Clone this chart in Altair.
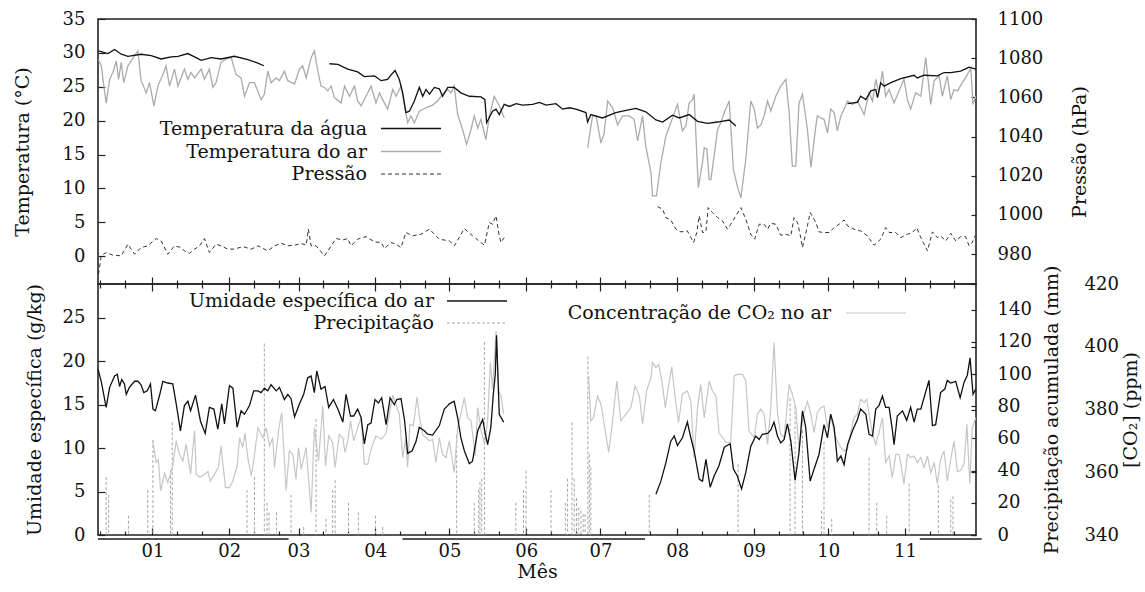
import altair as alt
import pandas as pd

FONT = "DejaVu Serif"
INK = "#111111"

# Calendar: day 0 is 1 January; the record starts on 10 December.
month_start = [0, 31, 59, 90, 120, 151, 181, 212, 243, 273, 304]
month_label = ["01", "02", "03", "04", "05", "06", "07", "08", "09", "10", "11"]
minor_days = [-21, -11] + [d + k for d in month_start for k in (10, 20)]
x_domain = [-22, 332.7]

# (day, value); a None value marks a break in the record.
water_temp = [
    (-21.8, 30.3), (-18.0, 29.9), (-15.3, 30.5), (-12.6, 29.8), (-9.9, 29.5), (-4.6, 29.8),
    (-0.5, 29.6), (3.5, 29.1), (7.6, 29.4), (10.3, 29.5), (14.3, 29.9), (17.0, 29.4),
    (19.7, 28.9), (23.7, 29.3), (27.7, 29.1), (33.1, 29.5), (38.5, 29.0), (42.6, 28.5),
    (45.0, 28.1), (58.0, None), (71.5, 28.4), (74.9, 28.3), (78.9, 27.6), (82.9, 27.2),
    (85.6, 26.5), (89.7, 26.6), (92.4, 25.9), (95.0, 26.1), (96.5, 26.8), (98.0, 27.4),
    (99.7, 26.1), (101.1, 24.1), (102.4, 21.2), (103.8, 21.4), (105.8, 22.9), (107.8, 24.9),
    (109.2, 23.6), (110.5, 24.6), (111.9, 23.9), (113.9, 24.9), (115.9, 24.7), (117.2, 23.6),
    (119.3, 24.9), (121.9, 24.9), (124.6, 24.1), (128.0, 23.6), (132.7, 23.5), (134.3, 23.1),
    (135.0, 19.7), (137.4, 21.4), (138.8, 21.7), (140.1, 20.9), (142.1, 22.4), (144.2, 22.1),
    (146.9, 22.5), (149.5, 22.3), (153.6, 22.4), (156.3, 22.7), (159.0, 22.3), (163.0, 22.5),
    (165.7, 21.7), (168.4, 21.9), (171.1, 21.7), (175.1, 21.2), (175.8, 19.8), (177.1, 20.9),
    (181.8, 20.4), (187.2, 21.2), (189.9, 21.4), (195.3, 21.8), (199.3, 21.3), (203.4, 20.1),
    (206.1, 19.8), (210.1, 20.8), (212.8, 20.4), (216.8, 20.9), (220.2, 19.9), (224.2, 19.6),
    (228.3, 19.8), (233.0, 20.1), (235.7, 19.2), (258.0, None), (280.8, 22.5), (284.8, 22.7),
    (286.1, 23.6), (288.2, 23.1), (290.2, 24.4), (292.2, 24.6), (292.9, 23.4), (294.2, 25.6),
    (295.6, 25.1), (298.3, 25.6), (302.3, 26.2), (307.7, 26.7), (309.0, 26.3), (311.7, 26.7),
    (317.1, 26.6), (319.8, 27.1), (322.5, 27.1), (326.5, 27.3), (329.9, 27.9), (332.6, 27.6),
]

air_temp = [
    (-21.8, 29.0), (-20.7, 28.1), (-18.7, 22.6), (-17.3, 26.1), (-16.0, 27.1), (-14.6, 28.8),
    (-13.7, 26.1), (-12.6, 28.6), (-11.6, 25.6), (-9.9, 28.1), (-5.9, 30.3), (-4.6, 25.9),
    (-2.5, 24.1), (-1.2, 25.6), (0.6, 22.2), (2.2, 25.1), (4.2, 26.8), (5.5, 28.1),
    (6.9, 25.1), (8.9, 27.6), (10.3, 25.1), (12.9, 27.6), (14.3, 26.1), (15.6, 27.1),
    (17.0, 26.3), (19.7, 27.6), (21.0, 26.1), (23.0, 27.6), (24.4, 24.9), (25.7, 25.6),
    (27.7, 28.6), (29.8, 29.1), (31.8, 29.3), (33.8, 26.8), (35.8, 26.3), (37.2, 23.6),
    (39.2, 25.6), (41.2, 25.6), (43.9, 23.1), (45.2, 23.9), (46.6, 27.3), (47.9, 25.6),
    (50.0, 26.3), (51.3, 25.9), (53.3, 27.3), (54.7, 25.9), (57.4, 25.4), (59.4, 27.6),
    (60.7, 28.1), (62.1, 26.3), (64.1, 29.3), (65.4, 30.3), (66.8, 27.3), (68.1, 25.1),
    (69.5, 24.9), (70.8, 24.4), (72.2, 25.1), (73.5, 23.4), (76.2, 22.6), (77.6, 25.1),
    (79.6, 23.6), (81.6, 25.1), (82.9, 22.9), (84.3, 22.2), (86.3, 23.6), (88.3, 25.1),
    (90.3, 22.6), (91.7, 24.1), (93.0, 23.1), (95.0, 21.7), (97.1, 24.6), (98.4, 23.6),
    (100.4, 25.1), (101.8, 22.2), (103.1, 19.7), (104.4, 20.7), (105.8, 19.7), (107.8, 21.4),
    (110.5, 21.9), (113.2, 22.3), (115.2, 22.9), (117.2, 23.9), (119.3, 24.6), (120.6, 24.1),
    (121.9, 25.1), (123.3, 20.9), (125.3, 18.7), (126.9, 16.5), (128.7, 18.7), (130.0, 20.7),
    (131.4, 18.9), (132.7, 20.2), (134.7, 17.2), (136.1, 20.7), (138.1, 23.6), (140.1, 22.2),
    (142.1, 20.4), (160.0, None), (175.8, 16.0), (177.8, 20.7), (179.2, 20.7), (181.2, 16.7),
    (182.5, 18.2), (183.9, 22.9), (185.9, 21.9), (187.9, 19.4), (189.9, 20.7), (192.6, 20.7),
    (194.6, 20.2), (196.0, 17.0), (198.0, 20.7), (199.3, 16.2), (201.4, 12.3), (202.0, 8.9),
    (203.6, 8.9), (205.4, 13.8), (207.4, 17.7), (209.4, 19.7), (212.1, 22.4), (214.1, 18.5),
    (215.5, 19.2), (216.8, 22.6), (218.2, 23.1), (218.8, 23.9), (220.5, 10.1), (222.2, 13.8),
    (222.9, 16.0), (224.0, 15.8), (224.9, 11.3), (225.6, 11.3), (226.9, 14.8), (228.3, 18.7),
    (229.6, 19.7), (231.0, 21.2), (233.0, 22.9), (234.7, 12.8), (236.3, 10.3), (237.7, 8.6),
    (239.7, 14.3), (241.7, 22.9), (243.1, 21.7), (244.4, 18.9), (245.8, 19.4), (247.1, 20.7),
    (248.5, 22.9), (249.8, 21.4), (251.8, 23.6), (253.8, 25.1), (255.9, 26.1), (257.2, 21.2),
    (258.5, 13.3), (259.9, 13.3), (261.2, 22.6), (262.6, 23.9), (264.6, 18.7), (266.0, 13.1),
    (268.0, 19.2), (268.6, 20.7), (270.0, 20.4), (271.3, 20.2), (272.7, 18.2), (274.0, 21.7),
    (275.4, 21.2), (276.7, 18.5), (278.1, 20.7), (279.4, 21.7), (280.8, 22.9), (282.8, 22.4),
    (284.8, 22.9), (287.5, 20.9), (289.5, 24.1), (290.9, 22.9), (292.2, 26.1), (293.5, 24.1),
    (294.9, 27.3), (296.2, 23.6), (297.6, 24.6), (299.6, 22.6), (301.6, 24.4), (303.6, 26.1),
    (305.0, 23.1), (306.3, 21.7), (308.3, 24.1), (310.4, 23.6), (312.4, 29.3), (314.4, 22.4),
    (315.8, 25.9), (317.8, 26.6), (319.1, 23.6), (321.1, 26.6), (322.5, 23.1), (323.8, 24.6),
    (325.2, 24.4), (327.2, 25.6), (329.2, 26.8), (330.6, 27.8), (331.5, 22.4), (332.6, 23.6),
]

pressure = [
    (-21.8, 969.7), (-20.7, 979.1), (-18.7, 980.8), (-16.0, 979.4), (-12.6, 979.1), (-9.9, 985.0),
    (-7.2, 979.9), (-4.6, 983.3), (-1.9, 984.2), (1.5, 987.9), (3.5, 986.7), (6.2, 979.9),
    (8.9, 984.2), (11.6, 983.3), (12.9, 981.6), (15.0, 980.4), (17.0, 982.5), (19.0, 984.2),
    (21.0, 987.9), (23.0, 980.8), (25.7, 985.0), (27.7, 984.2), (30.4, 982.5), (33.1, 982.5),
    (36.5, 983.8), (39.9, 982.5), (42.6, 984.2), (46.6, 981.6), (49.3, 984.2), (52.0, 985.5),
    (54.7, 984.2), (57.4, 984.5), (60.1, 985.4), (62.1, 984.5), (63.0, 992.7), (64.1, 984.2),
    (66.1, 984.2), (69.5, 979.1), (72.2, 984.2), (74.2, 987.9), (76.9, 987.2), (78.9, 987.9),
    (80.2, 984.2), (82.9, 987.6), (86.3, 988.9), (89.7, 986.2), (92.4, 985.9), (93.7, 982.8),
    (96.4, 985.9), (98.4, 985.0), (100.4, 983.3), (102.4, 991.0), (105.1, 989.3), (108.5, 990.1),
    (111.9, 992.7), (115.9, 987.6), (119.9, 986.7), (122.0, 984.2), (126.0, 993.0), (129.3, 989.3),
    (134.1, 984.5), (136.1, 996.1), (137.4, 995.2), (138.8, 999.5), (140.1, 989.3), (140.8, 985.9),
    (142.1, 988.4), (170.0, None), (204.0, 1004.2), (206.1, 1002.9), (207.4, 998.6), (209.4, 997.4),
    (211.5, 992.7), (213.5, 991.3), (216.1, 991.8), (217.5, 988.4), (218.6, 985.9), (219.9, 991.0),
    (220.9, 999.5), (222.2, 991.0), (223.6, 991.3), (224.5, 1003.7), (226.2, 1001.2), (228.3, 998.6),
    (230.3, 996.9), (232.3, 992.7), (233.6, 995.2), (235.7, 999.5), (237.7, 1003.7), (239.7, 997.8),
    (241.7, 990.1), (243.3, 987.6), (245.1, 995.2), (247.1, 995.2), (248.5, 992.7), (249.8, 995.7),
    (251.8, 995.2), (253.8, 989.6), (255.9, 990.1), (257.9, 989.3), (259.2, 998.6), (260.6, 996.1),
    (261.9, 988.4), (262.6, 983.3), (264.6, 994.4), (265.7, 1001.2), (268.0, 996.1), (269.3, 991.3),
    (271.3, 991.0), (273.4, 991.0), (275.4, 993.5), (277.4, 995.2), (279.4, 997.4), (280.8, 994.4),
    (283.4, 992.7), (286.1, 991.8), (288.8, 989.3), (291.5, 984.5), (294.2, 987.6), (296.2, 993.5),
    (297.6, 991.0), (300.3, 991.0), (302.3, 988.4), (305.0, 990.1), (307.0, 991.0), (308.8, 993.4),
    (310.4, 988.4), (313.1, 981.6), (315.1, 991.3), (317.1, 988.4), (318.4, 989.3), (320.5, 986.7),
    (322.5, 990.6), (324.5, 986.7), (326.5, 988.9), (328.5, 988.9), (329.9, 984.2), (331.2, 985.9),
    (332.3, 989.3),
]

humidity = [
    (-22.0, 19.1), (-20.7, 17.7), (-18.7, 14.7), (-17.3, 17.0), (-15.3, 18.3), (-14.2, 18.5),
    (-13.3, 17.1), (-12.4, 17.9), (-11.3, 17.4), (-10.6, 16.2), (-9.3, 17.0), (-7.2, 17.7),
    (-5.9, 17.7), (-4.6, 17.3), (-3.5, 16.4), (-2.1, 16.6), (-0.8, 17.4), (0.2, 14.5),
    (1.2, 14.3), (2.8, 16.0), (4.2, 17.7), (6.2, 17.5), (8.2, 17.4), (9.6, 15.1),
    (11.3, 12.0), (12.9, 14.9), (14.3, 15.4), (15.4, 14.3), (17.4, 16.1), (19.4, 13.1),
    (21.3, 11.7), (23.0, 14.7), (24.8, 14.5), (26.4, 12.2), (28.0, 15.1), (29.1, 12.8),
    (31.1, 17.2), (32.5, 16.9), (34.2, 12.4), (35.8, 14.3), (37.2, 13.9), (39.2, 14.9),
    (40.9, 16.6), (42.6, 16.6), (43.9, 16.4), (45.2, 16.9), (46.6, 16.6), (47.9, 17.3),
    (50.0, 16.6), (51.3, 17.0), (53.3, 15.6), (54.7, 16.2), (56.0, 15.7), (57.4, 13.6),
    (59.4, 15.1), (61.1, 16.2), (62.7, 18.1), (64.1, 18.3), (65.4, 16.4), (66.4, 18.9),
    (68.1, 16.8), (69.7, 17.1), (71.2, 14.7), (73.1, 15.6), (74.9, 14.5), (76.9, 13.0),
    (78.2, 16.2), (80.0, 13.7), (81.3, 13.7), (82.9, 14.5), (84.3, 13.5), (85.6, 10.5),
    (87.0, 12.7), (88.3, 12.9), (89.9, 15.6), (91.3, 15.2), (92.6, 15.8), (94.4, 12.7),
    (96.0, 15.8), (97.7, 15.0), (98.7, 15.6), (100.4, 15.7), (101.8, 13.3), (103.1, 9.4),
    (104.9, 9.7), (106.5, 10.8), (107.8, 12.4), (109.8, 12.0), (111.2, 11.6), (113.2, 11.5),
    (115.9, 12.6), (117.9, 14.5), (119.3, 14.9), (119.9, 15.1), (121.9, 15.4), (123.3, 13.5),
    (124.6, 11.2), (126.0, 9.7), (128.0, 8.2), (129.3, 8.5), (131.4, 12.0), (133.4, 13.3),
    (134.5, 11.6), (135.4, 10.4), (136.7, 12.4), (137.7, 16.2), (138.5, 18.5), (139.0, 23.0),
    (140.1, 13.9), (141.9, 13.0), (170.0, None), (203.4, 4.7), (205.4, 6.2), (207.4, 8.3),
    (209.4, 10.8), (210.8, 11.4), (212.1, 10.3), (214.1, 11.2), (216.1, 13.0), (217.5, 11.2),
    (218.8, 9.7), (220.9, 6.4), (222.2, 6.2), (223.6, 8.7), (225.3, 5.5), (226.9, 6.8),
    (228.9, 8.0), (231.0, 10.1), (233.4, 10.5), (234.7, 7.6), (236.3, 6.8), (238.0, 5.3),
    (239.7, 7.2), (241.7, 10.2), (243.7, 11.4), (245.1, 11.0), (246.4, 11.6), (248.5, 11.7),
    (249.8, 12.1), (251.1, 13.0), (252.5, 11.4), (253.8, 10.6), (255.2, 11.0), (256.5, 12.8),
    (257.9, 10.8), (259.6, 6.3), (261.2, 9.5), (262.6, 14.3), (263.9, 12.4), (265.7, 6.2),
    (267.3, 7.6), (269.3, 9.3), (271.3, 12.7), (272.7, 11.2), (274.0, 13.9), (275.4, 12.4),
    (276.7, 8.5), (278.1, 9.1), (279.4, 8.1), (280.8, 10.4), (282.8, 12.0), (284.8, 13.3),
    (286.1, 14.5), (288.2, 13.9), (289.5, 11.6), (290.9, 11.4), (292.2, 14.5), (293.5, 14.9),
    (294.9, 16.0), (296.2, 14.7), (297.6, 14.7), (298.9, 12.1), (299.6, 10.4), (300.9, 13.7),
    (303.0, 14.3), (304.7, 13.2), (306.3, 14.7), (307.7, 13.0), (309.0, 14.5), (310.4, 14.5),
    (311.7, 15.8), (313.7, 17.8), (315.1, 12.6), (316.4, 12.7), (318.4, 16.4), (320.1, 16.8),
    (321.1, 17.8), (322.5, 17.5), (324.5, 17.7), (326.3, 15.8), (327.9, 17.6), (329.2, 18.4),
    (330.3, 20.4), (331.5, 16.2), (332.6, 16.8),
]

co2 = [
    (0.2, 370.0), (1.5, 363.1), (2.4, 364.1), (3.3, 354.1), (4.9, 359.6), (6.2, 356.7),
    (8.2, 362.0), (9.6, 370.0), (10.9, 365.7), (12.3, 363.6), (13.6, 368.9), (15.4, 359.4),
    (17.0, 373.2), (17.7, 359.4), (19.0, 358.5), (20.3, 358.9), (22.4, 360.2), (23.4, 357.2),
    (25.1, 359.4), (26.7, 361.7), (27.7, 368.4), (29.5, 355.1), (31.1, 355.1), (32.5, 357.2),
    (34.2, 362.0), (35.2, 371.0), (36.5, 367.9), (37.4, 372.6), (38.5, 364.7), (39.9, 358.9),
    (40.9, 363.6), (42.6, 374.2), (44.6, 371.0), (45.9, 374.2), (47.3, 368.4), (48.6, 371.0),
    (49.3, 361.5), (51.0, 373.7), (52.2, 379.0), (54.0, 354.1), (55.3, 366.8), (56.7, 365.7),
    (58.0, 357.8), (59.0, 367.9), (60.1, 361.0), (62.1, 367.9), (64.1, 347.2), (65.4, 374.2),
    (67.1, 363.6), (68.8, 381.1), (69.9, 362.0), (71.2, 371.6), (72.8, 369.5), (73.8, 361.5),
    (75.5, 372.1), (76.9, 371.0), (77.8, 366.3), (78.9, 370.0), (80.0, 376.4), (81.3, 370.0),
    (82.9, 374.2), (84.3, 377.4), (85.6, 362.6), (87.0, 362.6), (88.3, 367.3), (90.3, 371.6),
    (92.4, 370.5), (94.4, 372.4), (95.7, 378.5), (97.1, 384.6), (99.7, 378.5), (101.1, 364.7),
    (102.2, 370.5), (103.1, 361.5), (104.0, 375.3), (105.4, 374.8), (106.9, 384.0), (107.8, 378.0),
    (109.2, 371.9), (110.5, 371.0), (111.9, 370.0), (113.2, 370.5), (114.5, 363.1), (115.9, 371.0),
    (117.2, 365.7), (118.6, 364.7), (119.9, 370.0), (121.9, 359.9), (123.3, 374.2), (124.6, 378.5),
    (126.0, 383.8), (127.3, 377.4), (128.7, 376.4), (130.4, 365.2), (131.4, 380.6), (132.7, 373.7),
    (134.1, 368.9), (135.4, 376.4), (136.5, 395.0), (137.4, 386.5), (138.8, 405.0), (139.9, 385.9),
    (140.8, 384.3), (141.9, 378.5), (160.0, None), (176.2, 390.7), (177.1, 376.4), (178.2, 377.4),
    (179.8, 384.3), (181.2, 381.7), (182.5, 375.3), (184.3, 366.3), (185.9, 376.4), (187.6, 389.1),
    (189.2, 376.4), (191.3, 378.5), (193.3, 380.6), (195.0, 387.5), (196.7, 384.3), (198.0, 375.3),
    (199.6, 385.9), (201.4, 390.2), (202.0, 395.0), (203.4, 393.4), (204.5, 394.4), (205.8, 389.1),
    (207.2, 380.6), (208.8, 389.1), (209.8, 393.6), (211.2, 383.8), (212.5, 375.8), (214.1, 384.9),
    (216.1, 385.9), (217.5, 382.7), (218.8, 364.7), (220.2, 380.6), (221.5, 388.0), (222.9, 377.4),
    (224.9, 389.1), (226.2, 385.9), (227.6, 384.3), (228.9, 372.6), (230.3, 371.0), (231.6, 369.5),
    (233.6, 369.5), (235.0, 390.7), (236.3, 391.2), (238.4, 391.2), (239.7, 389.1), (241.0, 373.2),
    (243.1, 371.0), (244.4, 378.5), (245.8, 380.1), (247.1, 378.5), (248.5, 368.9), (249.8, 380.6),
    (251.1, 401.3), (252.5, 379.0), (253.8, 372.1), (255.2, 371.0), (257.2, 388.0), (258.5, 384.9),
    (259.9, 380.6), (261.2, 366.8), (263.0, 378.5), (264.6, 382.5), (266.0, 378.5), (267.3, 372.6),
    (268.6, 379.0), (270.0, 380.6), (271.3, 381.1), (272.7, 374.2), (274.0, 378.5), (275.4, 372.6),
    (276.7, 370.0), (278.1, 367.9), (279.4, 366.8), (280.8, 367.3), (282.1, 372.6), (283.4, 377.4),
    (284.8, 378.5), (286.1, 383.3), (287.5, 382.2), (288.6, 383.3), (289.5, 378.5), (290.9, 372.1),
    (292.2, 368.9), (293.5, 372.6), (294.9, 377.4), (296.2, 363.1), (297.6, 365.2), (298.9, 358.3),
    (300.3, 365.7), (301.6, 365.7), (302.3, 363.1), (303.6, 356.2), (305.0, 365.7), (306.3, 364.7),
    (307.7, 365.2), (309.0, 363.1), (310.4, 364.7), (311.7, 361.5), (313.1, 365.2), (314.4, 359.9),
    (315.8, 363.1), (317.1, 356.2), (318.4, 364.1), (319.8, 366.8), (321.1, 357.2), (322.5, 364.1),
    (323.8, 370.0), (325.2, 360.2), (326.5, 360.6), (327.9, 362.8), (329.0, 375.3), (330.2, 356.4),
    (331.2, 374.2), (332.6, 377.4),
]

rain = [
    (-18.7, 36), (-17.7, 25), (-9.7, 12), (-1.9, 28), (0.2, 59), (7.3, 40), (8.0, 70),
    (38.2, 28), (41.2, 36), (45.2, 119), (46.3, 20), (47.1, 14), (50.1, 14), (56.0, 25),
    (61.1, 5), (66.1, 72), (70.1, 10), (72.8, 28), (73.8, 34), (79.2, 20), (83.2, 14),
    (90.1, 12), (93.0, 5), (122.9, 62), (130.0, 20), (131.8, 28), (132.3, 33), (133.0, 35),
    (134.1, 120), (146.8, 20), (149.9, 28), (150.9, 40), (161.0, 28), (166.8, 20), (167.7, 35),
    (169.5, 70), (170.4, 35), (171.3, 23), (172.2, 17), (173.1, 15), (174.0, 13), (174.8, 13),
    (175.9, 111), (176.5, 50), (177.1, 42), (200.7, 25), (236.6, 44), (257.6, 85), (259.6, 80),
    (262.6, 65), (270.3, 15), (271.3, 58), (274.4, 10), (289.5, 48), (292.6, 20), (296.6, 12),
    (305.7, 32), (317.5, 31), (322.5, 22), (323.4, 24),
]

campaign_start = [-22, 101, 310]
campaign_end = [55, 199, 335]

W, H_TOP, H_BOT = 878, 265, 251


def runs(pairs, name):
    """Long table with one run id per unbroken stretch of the record."""
    rows, seg = [], 0
    for day, val in pairs:
        if val is None:
            seg += 1
            continue
        rows.append({"day": day, "value": val, "series": name, "run": f"{name}-{seg}"})
    return pd.DataFrame(rows)


x_scale = alt.Scale(domain=x_domain, nice=False, zero=False)
month_expr = " : ".join(f"datum.value == {d} ? '{l}'" for d, l in zip(month_start, month_label)) + " : ''"


def major_x(orient, labelled=False):
    if labelled:
        return alt.Axis(orient=orient, values=month_start, tickSize=7, offset=-7, labels=True,
                        labelExpr=month_expr, labelPadding=7, labelFlush=False, labelOverlap=False,
                        title="Mês", titlePadding=2)
    return alt.Axis(orient=orient, values=month_start, tickSize=7, offset=-7, labels=False, title=None)


def minor_x(orient):
    return alt.Axis(orient=orient, values=minor_days, tickSize=4, offset=-4, labels=False, title=None)


def legend_entry(label, tx, ty, lx0, lx1, color, width, dash=None):
    one = pd.DataFrame({"k": [0]})
    text = alt.Chart(one).mark_text(align="right", baseline="middle", font=FONT, fontSize=19,
                                    color=INK).encode(
        x=alt.value(tx), y=alt.value(ty), text=alt.value(label))
    rule_kw = dict(color=color, strokeWidth=width)
    if dash:
        rule_kw["strokeDash"] = dash
    rule = alt.Chart(one).mark_rule(**rule_kw).encode(
        x=alt.value(lx0), x2=alt.value(lx1), y=alt.value(ty))
    return [text, rule]


# ---------------- upper panel: temperatures and pressure ----------------
temps_df = pd.concat([runs(air_temp, "air"), runs(water_temp, "water")], ignore_index=True)

temps = alt.Chart(temps_df).mark_line(strokeWidth=1.3).encode(
    x=alt.X("day:Q", scale=x_scale, axis=major_x("bottom")),
    y=alt.Y("value:Q", scale=alt.Scale(domain=[-4.1, 35], nice=False, zero=False),
            axis=alt.Axis(orient="left", values=list(range(0, 36, 5)), format="d", offset=-7,
                          tickSize=7, labelPadding=13, title="Temperatura (°C)", titlePadding=30)),
    color=alt.Color("series:N", scale=alt.Scale(domain=["air", "water"], range=["#ababab", "#111111"]),
                    legend=None),
    detail="run:N",
)

pres = alt.Chart(runs(pressure, "p")).mark_line(color="#333333", strokeWidth=1, strokeDash=[4, 3]).encode(
    x=alt.X("day:Q", scale=x_scale, axis=minor_x("bottom")),
    y=alt.Y("value:Q", scale=alt.Scale(domain=[964.7, 1100], nice=False, zero=False),
            axis=alt.Axis(orient="right", values=list(range(980, 1101, 20)), format="d", offset=-5,
                          tickSize=5, labelPadding=21, title="Pressão (hPa)", titleAngle=270,
                          titleBaseline="top", titlePadding=28)),
    detail="run:N",
)

top_legend = (
    legend_entry("Temperatura da água", 269, 109.5, 283, 343, "#111111", 1.3)
    + legend_entry("Temperatura do ar", 269, 132.5, 283, 343, "#ababab", 1.3)
    + legend_entry("Pressão", 269, 155, 283, 343, "#333333", 1.0, [4, 3])
)

top = alt.layer(pres, temps, *top_legend).resolve_scale(y="independent").resolve_axis(
    x="independent", y="independent").properties(width=W, height=H_TOP)

# ---------------- lower panel: humidity, rain and CO2 ----------------
rain_df = pd.DataFrame({"day": [d for d, _ in rain], "mm": [v for _, v in rain], "base": 0})
camp_df = pd.DataFrame({"start": campaign_start, "end": campaign_end})

rain_marks = alt.Chart(rain_df).mark_rule(color="#a6a6a6", strokeWidth=1, strokeDash=[3, 2]).encode(
    x=alt.X("day:Q", scale=x_scale, axis=minor_x("bottom")),
    y=alt.Y("mm:Q", scale=alt.Scale(domain=[0, 156], nice=False, zero=False),
            axis=alt.Axis(orient="right", values=list(range(0, 141, 20)), format="d", offset=-5,
                          tickSize=5, labelPadding=21, title="Precipitação acumulada (mm)",
                          titleAngle=270, titleBaseline="top", titlePadding=11)),
    y2=alt.Y2("base"),
)

co2_line = alt.Chart(runs(co2, "c")).mark_line(color="#c6c6c6", strokeWidth=1.2).encode(
    x=alt.X("day:Q", scale=x_scale, axis=major_x("top")),
    y=alt.Y("value:Q", scale=alt.Scale(domain=[340, 420], nice=False, zero=False),
            axis=alt.Axis(orient="right", values=list(range(340, 421, 20)), format="d", offset=-5,
                          tickSize=5, labelPadding=108, title="[CO₂] (ppm)", titleAngle=270,
                          titleBaseline="top", titlePadding=3)),
    detail="run:N",
)

hum_line = alt.Chart(runs(humidity, "h")).mark_line(color="#111111", strokeWidth=1.3).encode(
    x=alt.X("day:Q", scale=x_scale, axis=major_x("bottom", labelled=True)),
    y=alt.Y("value:Q", scale=alt.Scale(domain=[0, 28.9], nice=False, zero=False),
            axis=alt.Axis(orient="left", values=list(range(0, 26, 5)), format="d", offset=-7,
                          tickSize=7, labelPadding=13, title="Umidade específica (g/kg)",
                          titlePadding=18)),
    detail="run:N",
)

campaigns = alt.Chart(camp_df).mark_rule(color="#555555", strokeWidth=2).encode(
    x=alt.X("start:Q", scale=x_scale, axis=minor_x("top")),
    x2=alt.X2("end"),
    y=alt.value(H_BOT + 4),
)

bottom_legend = (
    legend_entry("Umidade específica do ar", 336, 17, 349, 409, "#111111", 1.3)
    + legend_entry("Precipitação", 336, 39, 349, 409, "#a6a6a6", 1.0, [3, 2])
    + legend_entry("Concentração de CO₂ no ar", 733, 29, 748, 808, "#c6c6c6", 1.2)
)

bottom = alt.layer(rain_marks, co2_line, hum_line, campaigns, *bottom_legend).resolve_scale(
    y="independent").resolve_axis(x="independent", y="independent").properties(width=W, height=H_BOT)

chart = alt.vconcat(top, bottom, spacing=0, bounds="flush").configure_axis(
    labelFont=FONT, titleFont=FONT, labelFontSize=18, titleFontSize=19, titleFontWeight="normal",
    labelColor=INK, titleColor=INK, tickColor="#222222", tickWidth=1.2, grid=False, domain=False,
).configure_view(stroke="#222222", strokeWidth=1.6).properties(
    background="white", padding={"left": 12, "top": 9, "right": 0, "bottom": 0},
)

chart.save("out.html", embed_options={"renderer": "svg", "actions": False})
